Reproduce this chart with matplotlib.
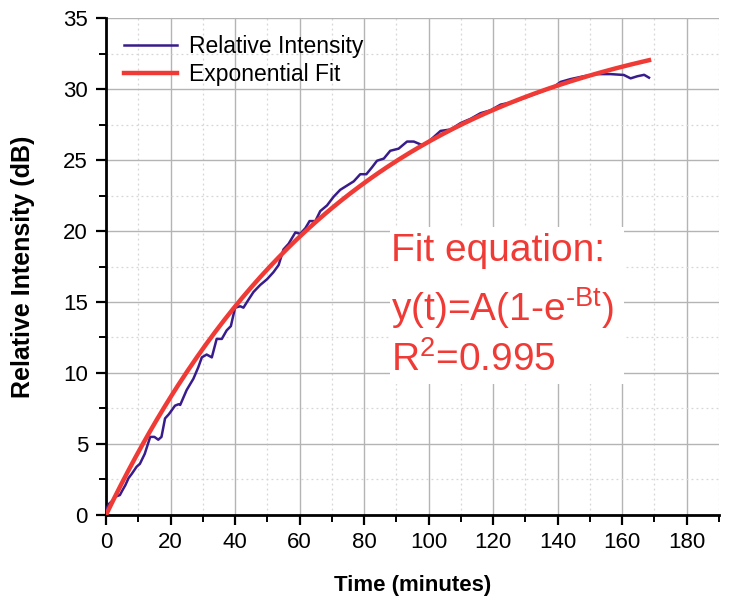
import matplotlib
matplotlib.use("Agg")
from matplotlib import pyplot as plt
from matplotlib.ticker import MultipleLocator
from matplotlib.patches import Rectangle
import numpy as np

plt.rcParams['font.family'] = ['Liberation Sans', 'DejaVu Sans']
plt.rcParams['mathtext.fontset'] = 'custom'
plt.rcParams['mathtext.rm'] = 'Liberation Sans'

time_min = [0, 0.5, 1, 2, 3, 4.3, 5, 6, 7, 8, 9.5, 10.5, 12, 13.7, 15, 16.2, 17.2,
            18.3, 19.5, 21.4, 22.5, 23, 25, 27.1, 28.6, 29.7, 31.2, 32.8, 34.3, 35.9,
            37.4, 38.7, 40, 41.6, 42.6, 43.7, 45.7, 47.8, 49.9, 51.9, 53.5, 55, 56.6,
            58.7, 60.2, 61.8, 63.1, 64.9, 66.4, 68.5, 70.5, 72.6, 74.7, 76.8, 78.8,
            80.7, 82.5, 84, 86.1, 88.1, 90.7, 93.3, 95.4, 98, 100, 103.7, 106.8, 109.9,
            113, 116.1, 119.2, 122.3, 126.4, 130.6, 134.7, 138.8, 140.9, 144, 148.1,
            152.3, 156.4, 160.5, 162.6, 164.7, 166.8, 168.3]
intensity = [0.3, 0.6, 0.8, 1.0, 1.3, 1.4, 1.7, 2.1, 2.6, 2.9, 3.4, 3.6, 4.3, 5.5, 5.5,
             5.3, 5.5, 6.8, 7.1, 7.7, 7.8, 7.75, 8.8, 9.6, 10.4, 11.1, 11.3, 11.1, 12.4,
             12.4, 13.0, 13.3, 14.6, 14.7, 14.6, 15.0, 15.7, 16.2, 16.6, 17.1, 17.6,
             18.7, 19.1, 19.9, 19.8, 20.2, 20.7, 20.7, 21.4, 21.8, 22.4, 22.9, 23.2,
             23.5, 24.0, 24.0, 24.5, 24.95, 25.1, 25.65, 25.8, 26.3, 26.3, 26.05, 26.3,
             27.05, 27.15, 27.6, 27.9, 28.3, 28.5, 28.9, 29.1, 29.45, 29.8, 30.15, 30.5,
             30.7, 30.9, 31.05, 31.05, 30.99, 30.75, 30.9, 31.0, 30.8]

# exponential fit y(t) = A(1 - exp(-B t))
fit_A = 36.0
fit_B = 0.0131
fit_t = np.linspace(0, 168.3, 300)
fit_y = fit_A * (1 - np.exp(-fit_B * fit_t))

fig = plt.figure(figsize=(7.29, 6.05), dpi=100)
ax = fig.add_axes([0.1454, 0.1488, 0.8409, 0.8214])

ax.plot(time_min, intensity, color='#381c8c', lw=1.8, label='Relative Intensity', zorder=3)
ax.plot(fit_t, fit_y, color='#f03a35', lw=3.2, label='Exponential Fit', zorder=4)

ax.set_xlim(0, 190)
ax.set_ylim(0, 35)
ax.xaxis.set_major_locator(MultipleLocator(20))
ax.xaxis.set_minor_locator(MultipleLocator(10))
ax.yaxis.set_major_locator(MultipleLocator(5))
ax.yaxis.set_minor_locator(MultipleLocator(2.5))

ax.set_axisbelow(True)
ax.grid(which='major', color='#b4b4b4', lw=1.0, ls='-')
ax.grid(which='minor', color='#d6d6d6', lw=0.9, ls=(0, (1.5, 2.5)))

for side in ['top', 'right']:
    ax.spines[side].set_visible(False)
for side in ['left', 'bottom']:
    ax.spines[side].set_linewidth(2.0)
ax.tick_params(which='major', direction='out', length=7, width=1.6, labelsize=16)
ax.tick_params(axis='x', which='major', pad=5)
ax.tick_params(axis='y', which='major', pad=6)
ax.tick_params(which='minor', direction='out', length=5, width=1.4)

ax.set_xlabel('Time (minutes)', fontsize=16, fontweight='bold', labelpad=16)
ax.set_ylabel('Relative Intensity (dB)', fontsize=18, fontweight='bold', labelpad=20)

ax.legend(loc='upper left', frameon=False, fontsize=16.5, handlelength=2.3,
          handletextpad=0.5, labelspacing=0.22, borderaxespad=0.0,
          bbox_to_anchor=(0.015, 0.985))

# white box behind fit equation
ax.add_patch(Rectangle((88, 9.2), 72.5, 11.1, facecolor='white', edgecolor='none', zorder=1.5))
red = '#f03a35'
ax.text(88.3, 18.6, 'Fit equation:', color=red, fontsize=28, va='center', ha='left', zorder=5)
ax.text(88.3, 14.6, r'y(t)=A(1-e$^{\text{-Bt}}$)', color=red, fontsize=28,
        va='center', ha='left', zorder=5)
ax.text(88.3, 10.9, r'R$^{\mathregular{2}}$=0.995', color=red, fontsize=28,
        va='center', ha='left', zorder=5)

fig.savefig('out.png', dpi=100)
